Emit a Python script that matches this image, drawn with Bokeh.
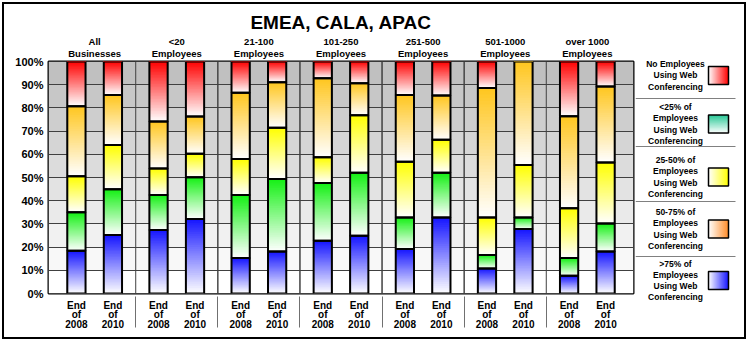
from bokeh.plotting import figure
from bokeh.models import (FactorRange, Range1d, CategoricalAxis, FixedTicker,
                          BoxAnnotation, ColumnDataSource, InlineStyleSheet)
from bokeh.layouts import row
from bokeh.embed import file_html
from bokeh.resources import INLINE
from bokeh.core.properties import value

# ---------------- data ----------------
title = "EMEA, CALA, APAC"
groups = ["All\nBusinesses", "<20\nEmployees", "21-100\nEmployees", "101-250\nEmployees",
          "251-500\nEmployees", "501-1000\nEmployees", "over 1000\nEmployees"]
years = ["End\nof\n2008", "End\nof\n2010"]
y_ticks = [0, 10, 20, 30, 40, 50, 60, 70, 80, 90, 100]
y_tick_labels = ["0%", "10%", "20%", "30%", "40%", "50%", "60%", "70%", "80%", "90%", "100%"]

# share of businesses (%) per bar, bars ordered group by group (2008, 2010)
blue_over75 = [18.4, 25.2, 27.4, 32.1, 15.3, 18.1, 22.7, 24.9, 19.2, 32.8, 10.8, 27.8, 7.6, 18.1]
green_under25 = [16.6, 19.7, 15.1, 18.0, 27.2, 31.3, 24.9, 27.1, 13.6, 19.2, 5.8, 5.0, 7.7, 12.1]
yellow_25_50 = [15.5, 19.1, 11.4, 10.1, 15.5, 22.0, 11.1, 24.8, 24.0, 14.3, 16.2, 22.6, 21.4, 26.3]
orange_50_75 = [30.2, 21.6, 20.2, 16.1, 28.5, 19.7, 34.1, 13.8, 28.8, 19.0, 55.8, 44.6, 39.7, 32.7]
red_none = [19.3, 14.4, 25.9, 23.7, 13.5, 8.9, 7.2, 9.4, 14.4, 14.7, 11.4, 0.0, 23.6, 10.8]

legend_labels = ["No Employees\nUsing Web\nConferencing",
                 "<25% of\nEmployees\nUsing Web\nConferencing",
                 "25-50% of\nEmployees\nUsing Web\nConferencing",
                 "50-75% of\nEmployees\nUsing Web\nConferencing",
                 ">75% of\nEmployees\nUsing Web\nConferencing"]

# ---------------- styling ----------------
FONT = "Liberation Sans"
C_BLUE = (20, 20, 255)
C_GREEN = (20, 240, 20)
C_YELLOW = (255, 255, 0)
C_ORANGE = (255, 198, 30)
C_RED = (255, 0, 0)
stack = [(blue_over75, C_BLUE), (green_under25, C_GREEN), (yellow_25_50, C_YELLOW),
         (orange_50_75, C_ORANGE), (red_none, C_RED)]


def blend(c, t):
    r = [round(255 + (ci - 255) * t) for ci in c]
    return "#%02x%02x%02x" % tuple(r)


factors = [(g, y) for g in groups for y in years]
F_PAD, G_PAD, R_PAD = 1.0, 1.5, 1.03
x_range = FactorRange(*factors, factor_padding=F_PAD, group_padding=G_PAD,
                      range_padding=R_PAD, range_padding_units="absolute")

p = figure(x_range=x_range, y_range=Range1d(0, 100), width=635, height=343,
           output_backend="svg", toolbar_location=None, title=title,
           min_border_left=48, min_border_right=2, min_border_top=61, min_border_bottom=50)
p.frame_align = False
p.border_fill_color = "white"
p.outline_line_color = "black"
p.outline_line_width = 2
p.title.align = "center"
p.title.text_font = FONT
p.title.text_font_size = "19px"
p.title.text_font_style = "bold"
p.title.text_color = "black"
p.title.standoff = 0

# background bands
for i in range(10):
    g = 255 - 7 * i
    p.add_layout(BoxAnnotation(bottom=i * 10, top=(i + 1) * 10, fill_color="#%02x%02x%02x" % (g, g, g),
                               fill_alpha=1, line_color=None, level="image"))

p.xgrid.visible = False
p.ygrid.ticker = FixedTicker(ticks=y_ticks)
p.ygrid.grid_line_color = "#404040"
p.ygrid.grid_line_width = 1

# y axis
p.yaxis.ticker = FixedTicker(ticks=y_ticks)
p.yaxis.major_label_overrides = {t: l for t, l in zip(y_ticks, y_tick_labels)}
p.yaxis.axis_line_color = None
p.yaxis.major_tick_line_color = None
p.yaxis.minor_tick_line_color = None
p.yaxis.major_tick_out = 0
p.yaxis.major_tick_in = 0
p.yaxis.major_label_text_font = FONT
p.yaxis.major_label_text_font_size = "11px"
p.yaxis.major_label_text_font_style = "bold"
p.yaxis.major_label_text_color = "black"
p.yaxis.major_label_standoff = 5

# below axis (years)
xa = p.xaxis[0]
xa.axis_line_color = None
xa.major_tick_line_color = None
xa.major_tick_out = 0
xa.major_tick_in = 0
xa.major_label_text_font = FONT
xa.major_label_text_font_size = "10px"
xa.major_label_text_font_style = "bold"
xa.major_label_text_color = "black"
xa.major_label_text_line_height = 0.9
xa.major_label_standoff = 6
xa.group_text_font_size = "0px"
xa.group_text_color = None
xa.separator_line_color = "#707070"
xa.separator_line_width = 1

# above axis (groups)
first_center = R_PAD + 1 + F_PAD / 2
total = len(factors) + len(groups) * F_PAD + (len(groups) - 1) * G_PAD + 2 * R_PAD
q = (first_center / total * len(groups) - 0.5) / (1 - 2 * first_center / total)
p.extra_x_ranges = {"grp": FactorRange(*groups, range_padding=q, range_padding_units="absolute")}
ta = CategoricalAxis(x_range_name="grp")
ta.axis_line_color = None
ta.major_tick_line_color = None
ta.major_tick_out = 0
ta.major_tick_in = 0
ta.major_label_text_font = FONT
ta.major_label_text_font_size = "9.5px"
ta.major_label_text_font_style = "bold"
ta.major_label_text_color = "black"
ta.major_label_text_line_height = 1.05
ta.major_label_standoff = 3
p.add_layout(ta, "above")

# slot lines (full height) at each bar's edges, and group boundary lines
p.vbar(x=factors, bottom=0, top=100, width=1.0, fill_color=None, line_color="#404040", line_width=1)
p.vbar(x=groups[1:-1], bottom=0, top=100, width=2 + F_PAD + G_PAD, fill_color=None,
       line_color="#404040", line_width=1)

# gradient stacked bars
K = 40
gx, gb, gt, gc = [], [], [], []
ox, ob, ot = [], [], []
for i, f in enumerate(factors):
    base = 0.0
    for vals, col in stack:
        v = vals[i]
        if v <= 0:
            continue
        b, t = base, base + v
        for k in range(K):
            gx.append(f)
            gb.append(b + (t - b) * k / K)
            gt.append(t)
            gc.append(blend(col, (k + 0.5) / K))
        ox.append(f); ob.append(b); ot.append(t)
        base = t

p.vbar(source=ColumnDataSource(dict(x=gx, bottom=gb, top=gt, color=gc)), x="x", bottom="bottom",
       top="top", width=1.0, fill_color="color", line_color=None)
p.vbar(source=ColumnDataSource(dict(x=ox, bottom=ob, top=ot)), x="x", bottom="bottom", top="top",
       width=1.0, fill_color=None, line_color="black", line_width=2)

# ---------------- legend panel ----------------
leg = figure(width=116, height=343, x_range=Range1d(0, 116), y_range=Range1d(343, 0),
             output_backend="svg", toolbar_location=None, x_axis_location=None, y_axis_location=None,
             min_border_left=0, min_border_right=0, min_border_top=0, min_border_bottom=0)
leg.frame_align = False
leg.grid.visible = False
leg.outline_line_color = None
leg.border_fill_color = "white"
leg.background_fill_color = "white"

centers = [75, 123.5, 176.5, 228.5, 280]
seps = [98, 146, 201, 256]
leg.segment(x0=[0] * len(seps), x1=[100] * len(seps), y0=seps, y1=seps, line_color="#808080", line_width=1)
leg.text(x=[40] * 5, y=centers, text=legend_labels, text_font=value(FONT), text_font_size="8.5px",
         text_font_style="bold", text_align="center", text_baseline="middle", text_line_height=1.13,
         text_color="black")

leg_cols = [C_RED, (40, 200, 150), C_YELLOW, (255, 140, 40), C_BLUE]
lx, lr, lb, lt, lc = [], [], [], [], []
BX0, BX1, BH = 73, 93, 18
for j, (c, col) in enumerate(zip(centers, leg_cols)):
    y0, y1 = c - BH / 2, c + BH / 2
    for k in range(K):
        if j == 1:  # vertical gradient: colour at top -> white at bottom
            lx.append(BX0); lr.append(BX1)
            lb.append(y1 - (y1 - y0) * k / K); lt.append(y0)
        else:  # horizontal gradient: white at left -> colour at right
            lx.append(BX0 + (BX1 - BX0) * k / K); lr.append(BX1)
            lb.append(y1); lt.append(y0)
        lc.append(blend(col, (k + 0.5) / K))
leg.quad(source=ColumnDataSource(dict(left=lx, right=lr, bottom=lb, top=lt, color=lc)),
         left="left", right="right", bottom="bottom", top="top", fill_color="color", line_color=None)
leg.quad(left=[BX0] * 5, right=[BX1] * 5, bottom=[c + BH / 2 for c in centers],
         top=[c - BH / 2 for c in centers], fill_color=None, line_color="black", line_width=1.5)

frame_css = InlineStyleSheet(css=""":host { position: relative; }
:host::after { content: ""; position: absolute; top: 2px; left: 2px; right: 5px; bottom: 4px;
  border: 2px solid black; pointer-events: none; z-index: 100; }""")
layout = row(p, leg, stylesheets=[frame_css])
open("out.html", "w").write(file_html(layout, INLINE))
